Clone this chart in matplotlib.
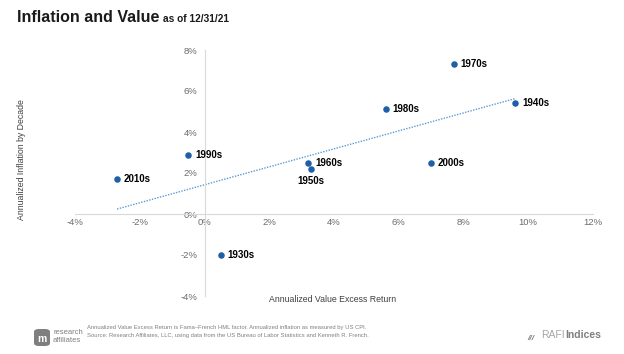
import matplotlib
matplotlib.use("Agg")
import matplotlib.pyplot as plt
import numpy as np
from matplotlib.patches import FancyBboxPatch

plt.rcParams['font.family'] = ['Liberation Sans', 'DejaVu Sans']

decades = ["1930s", "1940s", "1950s", "1960s", "1970s", "1980s", "1990s", "2000s", "2010s"]
value_excess = [0.5, 9.6, 3.3, 3.2, 7.7, 5.6, -0.5, 7.0, -2.7]
inflation = [-2.0, 5.4, 2.2, 2.5, 7.3, 5.1, 2.9, 2.5, 1.7]
x_ticks = [-4, -2, 0, 2, 4, 6, 8, 10, 12]
y_ticks = [-4, -2, 0, 2, 4, 6, 8]

W, H = 624, 354
fig = plt.figure(figsize=(W / 100, H / 100), dpi=100)
ax = fig.add_axes([75 / W, 1 - 296 / H, (593 - 75) / W, (296 - 50) / H])

ax.set_xlim(-4, 12)
ax.set_ylim(-4, 8)

# trendline
xs = np.array(value_excess)
ys = np.array(inflation)
m, b = np.polyfit(xs, ys, 1)
tx = np.array([xs.min(), xs.max()])
ax.plot(tx, m * tx + b, linestyle=(0, (1, 1)), color="#5B9BD5", lw=1.0, zorder=2)

ax.scatter(value_excess, inflation, s=22, color="#1F5FA6", zorder=3, linewidths=0)

for d, x, y in zip(decades, value_excess, inflation):
    if d == "1950s":
        ax.annotate(d, (x, y), xytext=(0, -5), textcoords="offset points",
                    ha="center", va="top", fontsize=7, fontweight="bold")
    else:
        ax.annotate(d, (x, y), xytext=(5, 0), textcoords="offset points",
                    ha="left", va="center", fontsize=7, fontweight="bold")

for s in ["top", "right"]:
    ax.spines[s].set_visible(False)
ax.spines["left"].set_position(("data", 0))
ax.spines["bottom"].set_position(("data", 0))
ax.spines["left"].set_color("#D9D9D9")
ax.spines["bottom"].set_color("#D9D9D9")
ax.spines["left"].set_linewidth(0.8)
ax.spines["bottom"].set_linewidth(0.8)

ax.set_xticks(x_ticks)
ax.set_xticklabels([f"{t}%" for t in x_ticks])
ax.set_yticks(y_ticks)
ax.set_yticklabels([f"{t}%" for t in y_ticks])
ax.tick_params(axis="both", length=0, labelsize=6.8, labelcolor="#6B6B6B")
ax.tick_params(axis="x", pad=3)
ax.tick_params(axis="y", pad=5)

fig.text(22 / W, 1 - 160 / H, "Annualized Inflation by Decade", rotation=90,
         ha="center", va="center", fontsize=6.3, color="#404040")
fig.text(333 / W, 1 - 300 / H, "Annualized Value Excess Return",
         ha="center", va="center", fontsize=6.3, color="#404040")

# title
fig.text(17 / W, 1 - 17 / H, "Inflation and Value", fontsize=11.5, fontweight="bold",
         ha="left", va="center", color="#1a1a1a")
fig.text(163 / W, 1 - 19 / H, "as of 12/31/21", fontsize=7.3, fontweight="bold",
         ha="left", va="center", color="#1a1a1a")

# footer
fig.text(87 / W, 1 - 328 / H,
         "Annualized Value Excess Return is Fama\u2013French HML factor. Annualized inflation as measured by US CPI.",
         fontsize=4.2, color="#808080", ha="left", va="center")
fig.text(87 / W, 1 - 335 / H,
         "Source: Research Affiliates, LLC, using data from the US Bureau of Labor Statistics and Kenneth R. French.",
         fontsize=4.2, color="#808080", ha="left", va="center")

# research affiliates logo
logo = FancyBboxPatch((34 / W, 1 - 346 / H), 16 / W, 17 / H,
                      boxstyle="round,pad=0,rounding_size=0.008",
                      transform=fig.transFigure, facecolor="#7F7F7F", edgecolor="none")
fig.patches.append(logo)
fig.text(42 / W, 1 - 339 / H, "m", fontsize=7.5, fontweight="bold", color="white",
         ha="center", va="center")
fig.text(53 / W, 1 - 332.5 / H, "research", fontsize=5.5, color="#7F7F7F", ha="left", va="center")
fig.text(53 / W, 1 - 340.5 / H, "affiliates", fontsize=5.5, color="#7F7F7F", ha="left", va="center")

# RAFI Indices logo
fig.text(527 / W, 1 - 338 / H, "///", fontsize=6, fontweight="bold", color="#7F7F7F",
         ha="left", va="center", style="italic")
rafi = fig.text(541 / W, 1 - 338 / H, "RAFI", fontsize=7.5, color="#A6A6A6",
                ha="left", va="baseline")
fig.add_artist(matplotlib.text.Annotation(
    "Indices", xy=(1, 0), xycoords=rafi, xytext=(0.5, 0), textcoords="offset points",
    fontsize=7.5, fontweight="bold", color="#7F7F7F", ha="left", va="bottom"))

fig.savefig("out.png", dpi=100)
